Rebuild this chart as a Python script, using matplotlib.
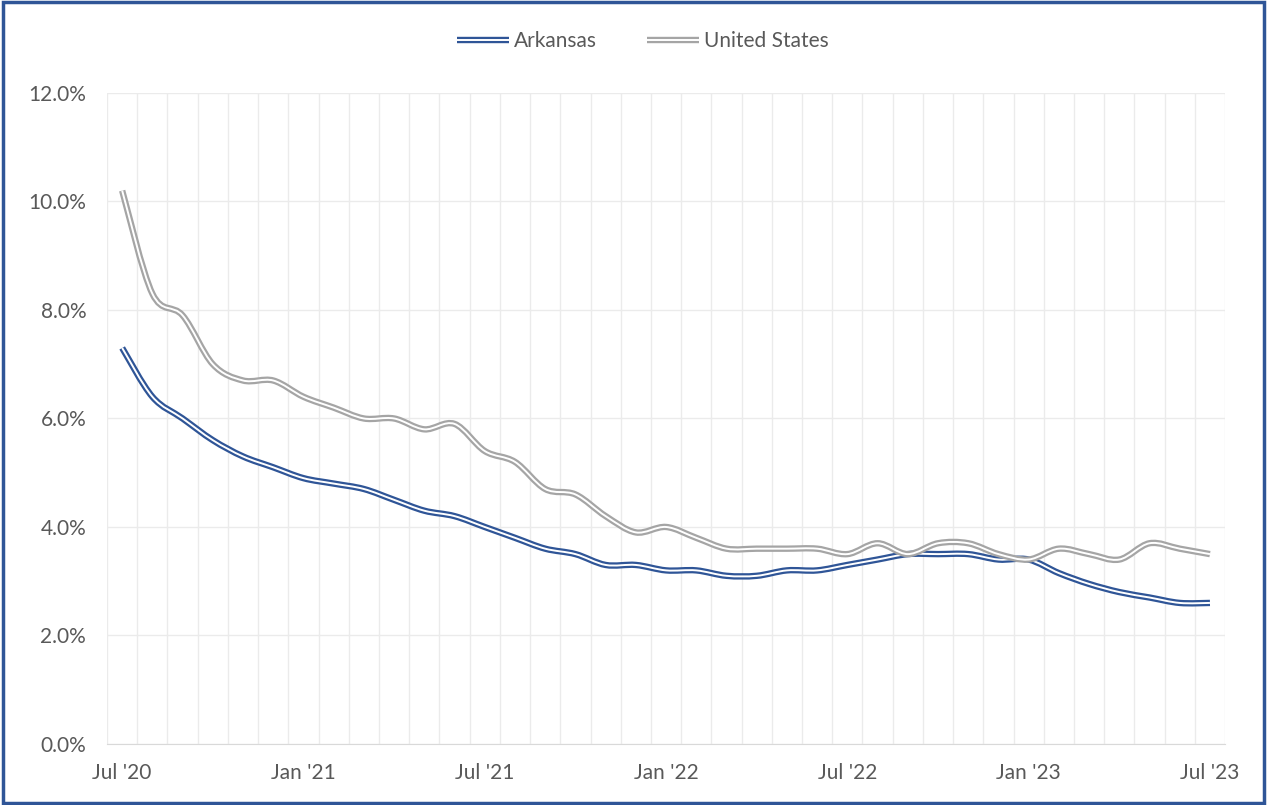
import matplotlib.pyplot as plt
import numpy as np
from matplotlib.patches import Rectangle, PathPatch
from matplotlib.path import Path
from matplotlib.lines import Line2D

# monthly unemployment rate, Jul 2020 - Jul 2023
months = ["Jul '20", "Aug '20", "Sep '20", "Oct '20", "Nov '20", "Dec '20",
          "Jan '21", "Feb '21", "Mar '21", "Apr '21", "May '21", "Jun '21",
          "Jul '21", "Aug '21", "Sep '21", "Oct '21", "Nov '21", "Dec '21",
          "Jan '22", "Feb '22", "Mar '22", "Apr '22", "May '22", "Jun '22",
          "Jul '22", "Aug '22", "Sep '22", "Oct '22", "Nov '22", "Dec '22",
          "Jan '23", "Feb '23", "Mar '23", "Apr '23", "May '23", "Jun '23",
          "Jul '23"]

arkansas = [7.3, 6.4, 6.0, 5.6, 5.3, 5.1, 4.9, 4.8, 4.7, 4.5, 4.3, 4.2,
            4.0, 3.8, 3.6, 3.5, 3.3, 3.3, 3.2, 3.2, 3.1, 3.1, 3.2, 3.2,
            3.3, 3.4, 3.5, 3.5, 3.5, 3.4, 3.4, 3.15, 2.95, 2.8, 2.7, 2.6,
            2.6]

united_states = [10.2, 8.3, 7.9, 7.0, 6.7, 6.7, 6.4, 6.2, 6.0, 6.0, 5.8, 5.9,
                 5.4, 5.2, 4.7, 4.6, 4.2, 3.9, 4.0, 3.8, 3.6, 3.6, 3.6, 3.6,
                 3.5, 3.7, 3.5, 3.7, 3.7, 3.5, 3.4, 3.6, 3.5, 3.4, 3.7, 3.6,
                 3.5]

blue = '#2F5597'
gray = '#A5A5A5'
txt = '#595959'

plt.rcParams['font.family'] = ['Lato', 'DejaVu Sans']


def smooth_path(xs, ys):
    # Excel-style "smoothed line": bezier segments through the data points
    pts = np.column_stack([xs, ys]).astype(float)
    n = len(pts)
    verts = [pts[0]]
    codes = [Path.MOVETO]
    for i in range(n - 1):
        p0 = pts[max(i - 1, 0)]
        p1 = pts[i]
        p2 = pts[i + 1]
        p3 = pts[min(i + 2, n - 1)]
        verts += [p1 + (p2 - p0) / 6.0, p2 - (p3 - p1) / 6.0, p2]
        codes += [Path.CURVE4] * 3
    return Path(verts, codes)


fig = plt.figure(figsize=(12.67, 8.05), dpi=100)
ax = fig.add_axes([0.0845, 0.0758, 0.8824, 0.8087])

x = np.arange(len(months))

# double (compound) lines: thick coloured stroke with a thin white core
handles = []
for vals, col, name in [(arkansas, blue, 'Arkansas'), (united_states, gray, 'United States')]:
    p = smooth_path(x, vals)
    ax.add_patch(PathPatch(p, fill=False, edgecolor=col, lw=4.6, joinstyle='round', capstyle='butt'))
    ax.add_patch(PathPatch(p, fill=False, edgecolor='white', lw=1.4, joinstyle='round', capstyle='butt'))
    outer = Line2D([], [], color=col, lw=4.6, solid_capstyle='butt')
    inner = Line2D([], [], color='white', lw=1.4, solid_capstyle='butt')
    handles.append(((outer, inner), name))

ax.set_xlim(-0.5, len(months) - 0.5)
ax.set_ylim(0, 12)

ax.set_yticks(np.arange(0, 13, 2))
ax.set_yticklabels(['%.1f%%' % v for v in np.arange(0, 13, 2)])
ax.set_xticks(x[::6])
ax.set_xticklabels(months[::6])
ax.set_xticks(np.arange(-0.5, len(months), 1), minor=True)

ax.grid(axis='y', which='major', color='#EBEBEB', lw=1)
ax.grid(axis='x', which='minor', color='#EBEBEB', lw=1)
ax.set_axisbelow(True)

ax.tick_params(axis='both', which='both', length=0, labelsize=15, colors=txt)
ax.tick_params(axis='y', pad=15)
ax.tick_params(axis='x', pad=14)

for s in ['top', 'right', 'left']:
    ax.spines[s].set_visible(False)
ax.spines['bottom'].set_color('#D9D9D9')

fig.legend([h for h, _ in handles], [n for _, n in handles], loc='center',
           bbox_to_anchor=(0.5075, 0.949), ncol=2, frameon=False, fontsize=15,
           labelcolor=txt, handlelength=2.5, handletextpad=0.25, columnspacing=2.4)

# blue frame around the chart
fig.patches.append(Rectangle((0.002, 0.002), 0.996, 0.995, transform=fig.transFigure,
                             fill=False, edgecolor=blue, lw=2.5))

fig.savefig('out.png', dpi=100)
